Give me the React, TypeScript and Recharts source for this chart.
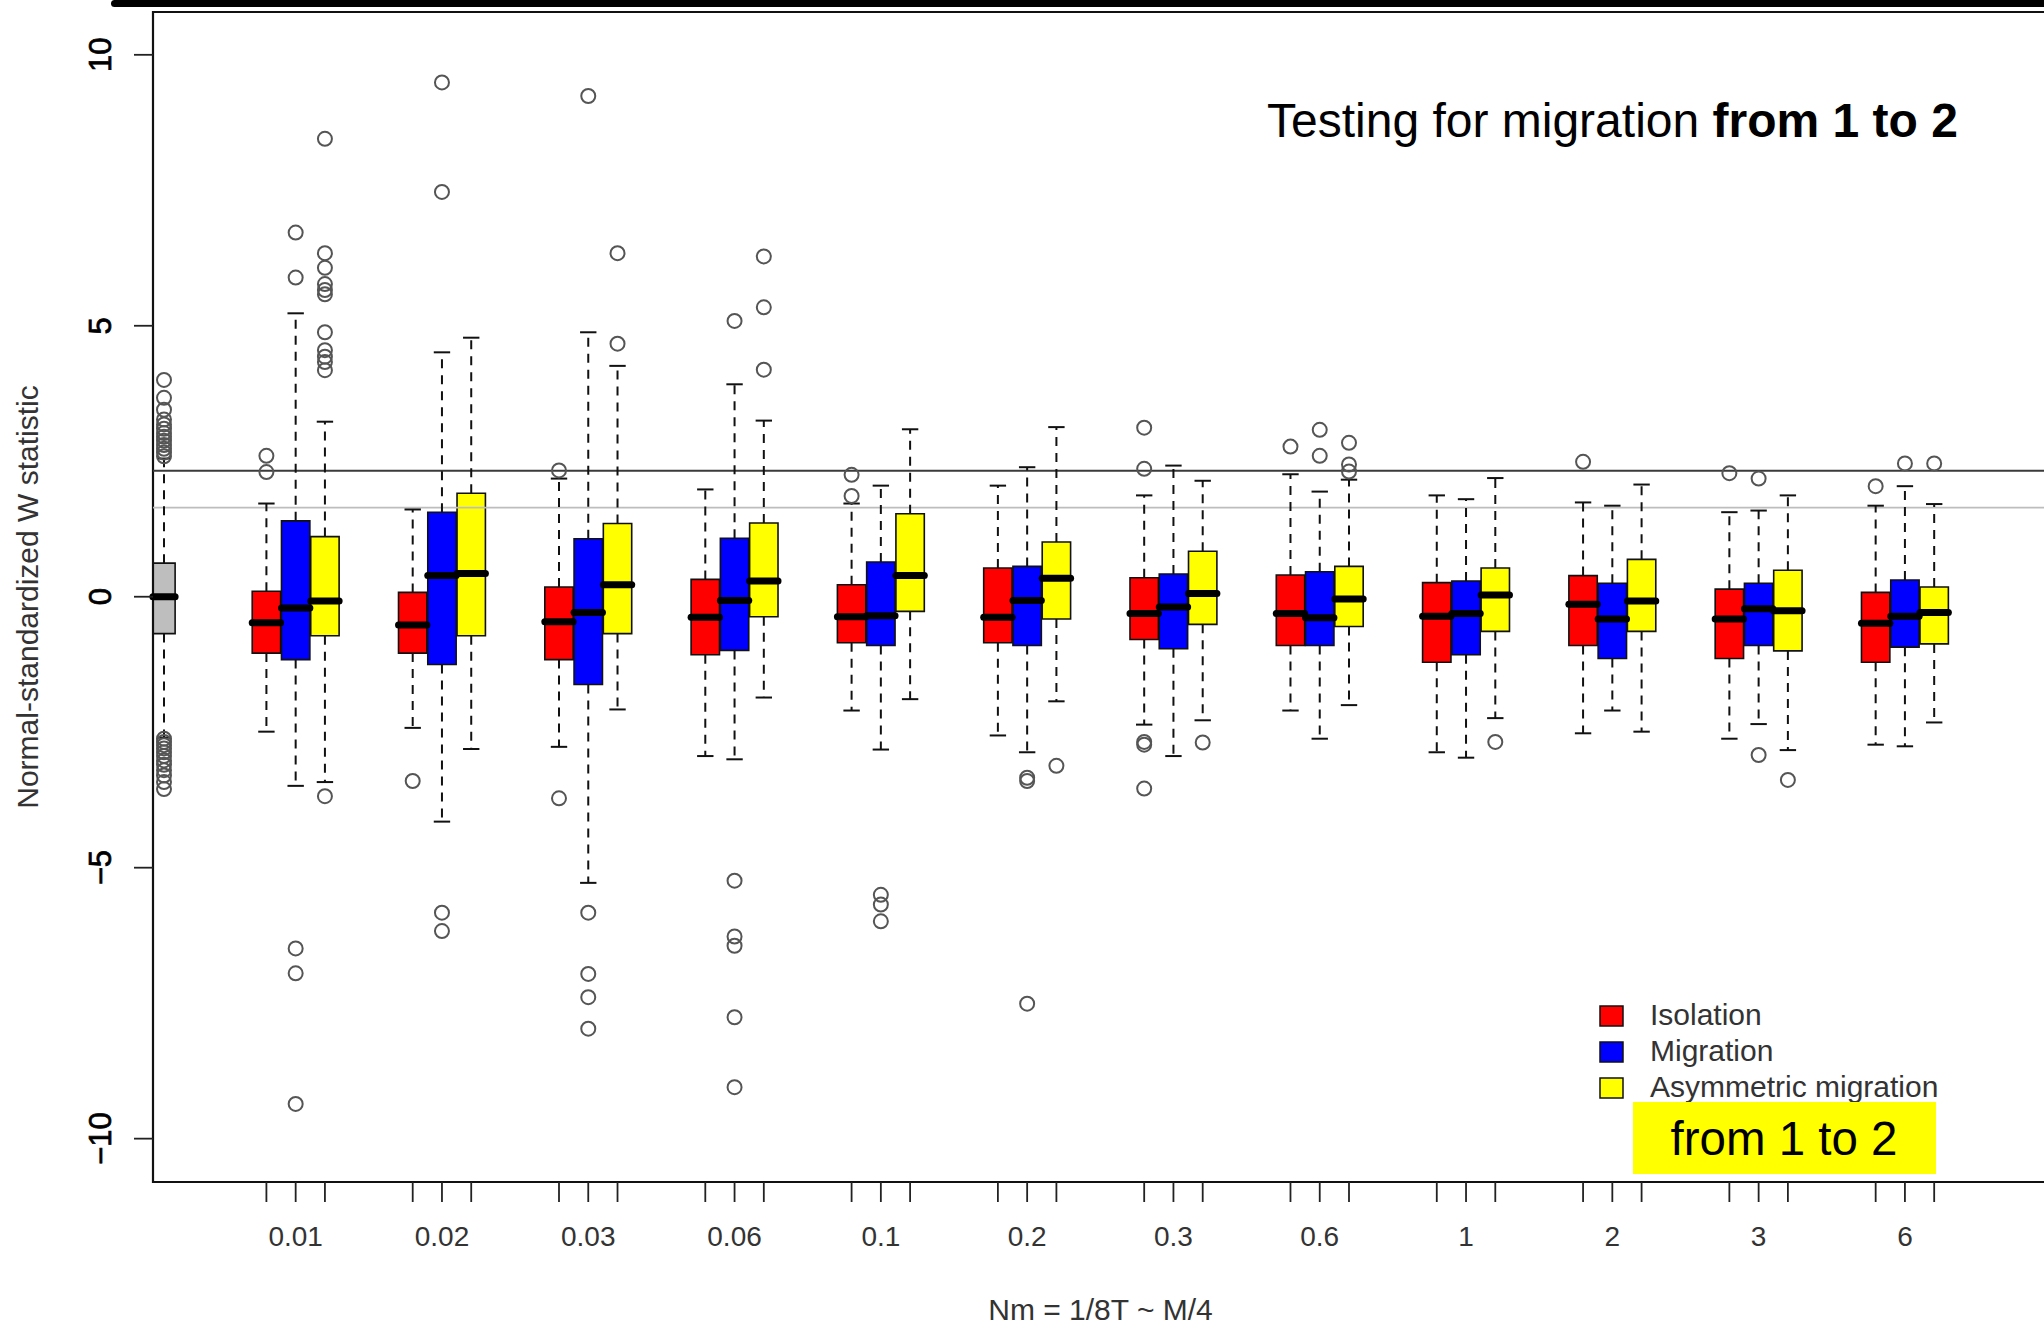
import React from "react";
import { ComposedChart, XAxis, YAxis, ReferenceArea, ReferenceLine, Scatter } from "recharts";

// Nm values (x categories)
const nmLabels = ["0.01", "0.02", "0.03", "0.06", "0.1", "0.2", "0.3", "0.6", "1", "2", "3", "6"];
const seriesNames = ["Isolation", "Migration", "Asymmetric migration"];
const seriesColors = ["#ff0000", "#0000ff", "#ffff00"];
const controlColor = "#bebebe";

// [lower whisker, Q1, median, Q3, upper whisker]
const controlStats = [-2.6, -0.68, 0.0, 0.62, 2.55];
const isolationStats = [
  [-2.49, -1.04, -0.48, 0.1, 1.72],
  [-2.42, -1.04, -0.52, 0.08, 1.61],
  [-2.77, -1.16, -0.46, 0.18, 2.18],
  [-2.94, -1.07, -0.38, 0.32, 1.98],
  [-2.1, -0.85, -0.37, 0.22, 1.72],
  [-2.56, -0.85, -0.38, 0.53, 2.05],
  [-2.36, -0.79, -0.31, 0.35, 1.87],
  [-2.1, -0.9, -0.31, 0.4, 2.26],
  [-2.87, -1.21, -0.36, 0.26, 1.87],
  [-2.52, -0.9, -0.14, 0.39, 1.74],
  [-2.62, -1.14, -0.41, 0.14, 1.56],
  [-2.73, -1.21, -0.49, 0.08, 1.68],
];
const migrationStats = [
  [-3.49, -1.16, -0.21, 1.4, 5.23],
  [-4.15, -1.25, 0.39, 1.56, 4.51],
  [-5.28, -1.62, -0.29, 1.07, 4.88],
  [-3.0, -0.99, -0.07, 1.08, 3.92],
  [-2.82, -0.9, -0.35, 0.64, 2.05],
  [-2.87, -0.9, -0.07, 0.56, 2.39],
  [-2.94, -0.96, -0.19, 0.42, 2.42],
  [-2.62, -0.9, -0.39, 0.46, 1.94],
  [-2.97, -1.07, -0.31, 0.29, 1.8],
  [-2.1, -1.14, -0.41, 0.25, 1.68],
  [-2.35, -0.9, -0.22, 0.25, 1.59],
  [-2.76, -0.93, -0.36, 0.31, 2.04],
];
const asymmetricStats = [
  [-3.42, -0.72, -0.08, 1.11, 3.23],
  [-2.81, -0.72, 0.43, 1.91, 4.78],
  [-2.08, -0.68, 0.22, 1.35, 4.26],
  [-1.86, -0.37, 0.29, 1.36, 3.25],
  [-1.89, -0.27, 0.39, 1.53, 3.09],
  [-1.93, -0.41, 0.34, 1.01, 3.13],
  [-2.28, -0.51, 0.06, 0.84, 2.14],
  [-2.0, -0.55, -0.04, 0.56, 2.16],
  [-2.24, -0.64, 0.03, 0.53, 2.19],
  [-2.49, -0.64, -0.08, 0.69, 2.07],
  [-2.83, -1.0, -0.26, 0.49, 1.87],
  [-2.32, -0.87, -0.29, 0.18, 1.71],
];

// outlying values
const controlOutliers = [
  4.0, 3.67, 3.45, 3.27, 3.18, 3.1, 3.02, 2.95, 2.88, 2.8, 2.73, 2.66, 2.59,
  -2.62, -2.68, -2.74, -2.8, -2.87, -2.94, -3.02, -3.1, -3.2, -3.3, -3.42, -3.55,
];
const isolationOutliers = [
  [2.6, 2.3], [-3.4], [2.33, -3.72], [], [2.25, 1.86], [],
  [3.12, 2.36, -2.68, -2.73, -3.54], [2.77], [], [2.49], [2.28], [2.04],
];
const migrationOutliers = [
  [6.72, 5.89, -6.49, -6.95, -9.36],
  [9.49, 7.47, -5.83, -6.17],
  [9.24, -5.83, -6.96, -7.39, -7.97],
  [5.09, -5.24, -6.27, -6.44, -7.76, -9.05],
  [-5.5, -5.68, -5.99],
  [-3.34, -3.4, -7.51],
  [], [3.08, 2.6], [], [], [2.18, -2.92], [2.46],
];
const asymmetricOutliers = [
  [8.45, 6.34, 6.07, 5.77, 5.66, 5.58, 4.88, 4.55, 4.43, 4.33, 4.18, -3.68],
  [], [6.34, 4.67], [6.28, 5.34, 4.19], [], [-3.12], [-2.69],
  [2.84, 2.44, 2.31], [-2.68], [], [-3.38], [2.46],
];

const criticalValues = [2.326, 1.645];
const yTicks = [-10, -5, 0, 5, 10];

const X_MIN = -0.376;
const X_MAX = 64.39;
const Y_MIN = -10.8;
const Y_MAX = 10.79;

const allStats = [isolationStats, migrationStats, asymmetricStats];
const allOutliers = [isolationOutliers, migrationOutliers, asymmetricOutliers];
const groupCenter = (k: number) => 4.5 + 5 * k;

type Box = { key: string; x: number; w: number; cap: number; s: number[]; fill: string };

const boxes: Box[] = [
  { key: "ctrl", x: 0, w: 0.76, cap: 0.22, s: controlStats, fill: controlColor },
  ...nmLabels.flatMap((_, k) =>
    allStats.map((arr, s) => ({
      key: `b${k}-${s}`,
      x: groupCenter(k) + s - 1,
      w: 0.97,
      cap: 0.28,
      s: arr[k],
      fill: seriesColors[s],
    }))
  ),
];

const outlierPoints = [
  ...controlOutliers.map((y) => ({ x: 0, y })),
  ...nmLabels.flatMap((_, k) =>
    allOutliers.flatMap((arr, s) => arr[k].map((y) => ({ x: groupCenter(k) + s - 1, y })))
  ),
];

const xTicks = nmLabels.flatMap((_, k) => [-1, 0, 1].map((o) => groupCenter(k) + o));

const fmtY = (v: number) => (v < 0 ? `\u2212${Math.abs(v)}` : `${v}`);

function XTick(props: any) {
  const { x, y, payload } = props;
  const k = nmLabels.findIndex((_, i) => groupCenter(i) === payload.value);
  if (k < 0) return <g />;
  return (
    <text x={x} y={y + 42} textAnchor="middle" fontSize={28} fill="#333">
      {nmLabels[k]}
    </text>
  );
}

function YTick(props: any) {
  const { x, y, payload } = props;
  return (
    <text
      transform={`translate(${x - 21},${y}) rotate(-90)`}
      textAnchor="middle"
      fontSize={31}
      fill="#000"
      stroke="#000"
      strokeWidth={0.7}
    >
      {fmtY(payload.value)}
    </text>
  );
}

function YTitle(props: any) {
  const vb = props.viewBox || { x: 0, y: 12, width: 153, height: 1170 };
  const cy = vb.y + vb.height / 2;
  return (
    <text transform={`translate(${vb.x + 38},${cy}) rotate(-90)`} textAnchor="middle" fontSize={30} fill="#333">
      Normal-standardized W statistic
    </text>
  );
}

const renderOutlier = (p: any) => (
  <circle cx={p.cx} cy={p.cy} r={7} fill="none" stroke="#555" strokeWidth={2} />
);

export default function App() {
  return (
    <div
      style={{
        position: "absolute",
        left: 0,
        top: 0,
        width: 2044,
        height: 1325,
        overflow: "hidden",
        background: "#fff",
        fontFamily: '"Liberation Sans", Arial, sans-serif',
      }}
    >
      <ComposedChart width={2052} height={1325} margin={{ top: 12, right: 4, bottom: 0, left: 0 }}>
        <XAxis
          type="number"
          dataKey="x"
          domain={[X_MIN, X_MAX]}
          allowDataOverflow
          ticks={xTicks}
          interval={0}
          tickSize={20}
          tickLine={{ stroke: "#222", strokeWidth: 1.8 }}
          axisLine={false}
          tick={<XTick />}
          height={143}
          label={{ value: "Nm = 1/8T ~ M/4", position: "insideBottom", offset: 5, fontSize: 30, fill: "#333" }}
        />
        <YAxis
          type="number"
          domain={[Y_MIN, Y_MAX]}
          allowDataOverflow
          ticks={yTicks}
          interval={0}
          tickSize={19}
          tickLine={{ stroke: "#222", strokeWidth: 1.8 }}
          axisLine={false}
          tick={<YTick />}
          width={153}
          label={<YTitle />}
        />

        <ReferenceLine y={criticalValues[1]} stroke="#bdbdbd" strokeWidth={1.6} />
        <ReferenceLine y={criticalValues[0]} stroke="#3a3a3a" strokeWidth={2} />

        {boxes.flatMap((b) => [
          <ReferenceLine
            key={`wu-${b.key}`}
            segment={[{ x: b.x, y: b.s[3] }, { x: b.x, y: b.s[4] }]}
            stroke="#111"
            strokeWidth={2}
            strokeDasharray="9 7"
            ifOverflow="visible"
          />,
          <ReferenceLine
            key={`wl-${b.key}`}
            segment={[{ x: b.x, y: b.s[1] }, { x: b.x, y: b.s[0] }]}
            stroke="#111"
            strokeWidth={2}
            strokeDasharray="9 7"
            ifOverflow="visible"
          />,
          <ReferenceLine
            key={`cu-${b.key}`}
            segment={[{ x: b.x - b.cap, y: b.s[4] }, { x: b.x + b.cap, y: b.s[4] }]}
            stroke="#111"
            strokeWidth={2}
            ifOverflow="visible"
          />,
          <ReferenceLine
            key={`cl-${b.key}`}
            segment={[{ x: b.x - b.cap, y: b.s[0] }, { x: b.x + b.cap, y: b.s[0] }]}
            stroke="#111"
            strokeWidth={2}
            ifOverflow="visible"
          />,
        ])}

        {boxes.map((b) => (
          <ReferenceArea
            key={`box-${b.key}`}
            x1={b.x - b.w / 2}
            x2={b.x + b.w / 2}
            y1={b.s[1]}
            y2={b.s[3]}
            fill={b.fill}
            fillOpacity={1}
            stroke="#111"
            strokeWidth={1.6}
            ifOverflow="visible"
          />
        ))}

        {boxes.map((b) => (
          <ReferenceLine
            key={`med-${b.key}`}
            segment={[{ x: b.x - b.w / 2, y: b.s[2] }, { x: b.x + b.w / 2, y: b.s[2] }]}
            stroke="#000"
            strokeWidth={7}
            strokeLinecap="round"
            ifOverflow="visible"
          />
        ))}

        <ReferenceArea
          x1={X_MIN}
          x2={X_MAX}
          y1={Y_MIN}
          y2={Y_MAX}
          fill="none"
          stroke="#111"
          strokeWidth={2.2}
          ifOverflow="visible"
        />

        <Scatter data={outlierPoints} dataKey="y" isAnimationActive={false} shape={renderOutlier} />
      </ComposedChart>

      <svg
        width={2044}
        height={1325}
        style={{ position: "absolute", left: 0, top: 0, pointerEvents: "none" }}
      >
        <rect x={111} y={0} width={1940} height={7} rx={3.5} fill="#000" />
        <text x={1267} y={137} fontSize={48} fill="#000">
          Testing for migration{" "}
          <tspan fontWeight="bold">from 1 to 2</tspan>
        </text>

        {seriesNames.map((name, i) => (
          <g key={name}>
            <rect x={1600} y={1006 + 36 * i} width={23} height={20} fill={seriesColors[i]} stroke="#111" strokeWidth={1.5} />
            <text x={1650} y={1025 + 36 * i} fontSize={30} fill="#333">
              {name}
            </text>
          </g>
        ))}

        <rect x={1633} y={1102} width={303} height={72} fill="#ffff00" />
        <text x={1784} y={1155} textAnchor="middle" fontSize={47.5} fill="#000">
          from 1 to 2
        </text>
      </svg>
    </div>
  );
}
